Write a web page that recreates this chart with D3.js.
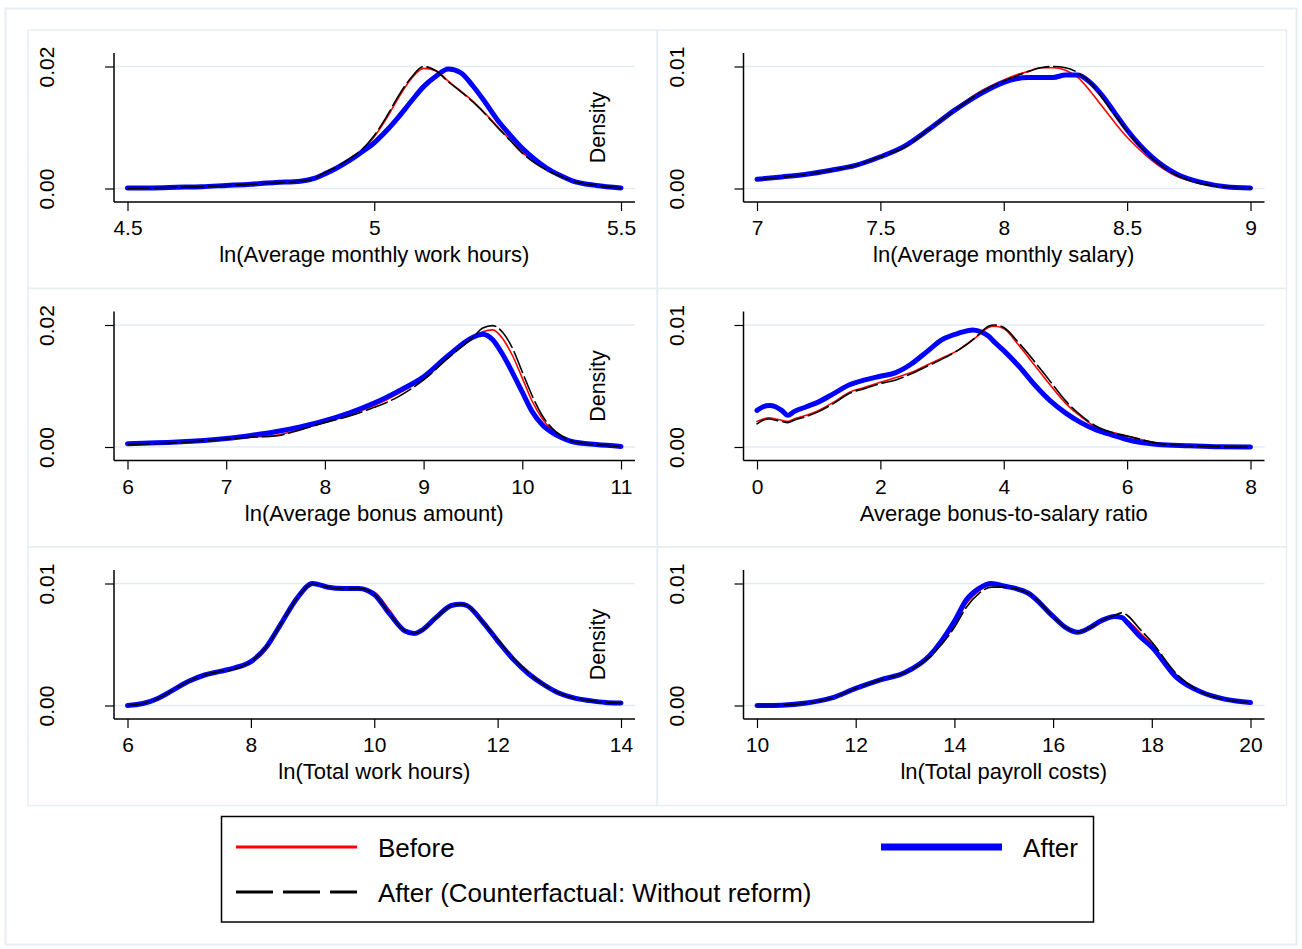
<!DOCTYPE html>
<html>
<head>
<meta charset="utf-8">
<script src="https://cdn.jsdelivr.net/npm/d3@7"></script>
<style>
  body { margin: 0; background: #fff; }
  text { font-family: "Liberation Sans", Arial, sans-serif; fill: #000; }
</style>
</head>
<body>
<div id="chart"></div>
<script>
// ---- data (kernel densities) ----
// panel 1: ln(Average monthly work hours)
const p1X       = [4.5,4.55,4.6,4.65,4.7,4.75,4.8,4.85,4.88,4.9,4.925,4.95,4.975,5.0,5.025,5.05,5.075,5.1,5.125,5.15,5.175,5.2,5.225,5.25,5.275,5.3,5.325,5.35,5.375,5.4,5.45,5.5];
const p1Before  = [0.0000,0.0001,0.0002,0.0003,0.0005,0.0007,0.0009,0.0012,0.0017,0.0025,0.0035,0.0048,0.0063,0.0085,0.0115,0.0150,0.0180,0.0197,0.0193,0.0176,0.0160,0.0143,0.0123,0.0101,0.0080,0.0059,0.0043,0.0030,0.0021,0.0013,0.0005,0.0001];
const p1After   = [0.0001,0.0001,0.0002,0.0003,0.0005,0.0007,0.0010,0.0012,0.0017,0.0024,0.0034,0.0046,0.0060,0.0075,0.0095,0.0118,0.0143,0.0167,0.0184,0.0196,0.0190,0.0168,0.0141,0.0112,0.0088,0.0066,0.0048,0.0033,0.0022,0.0013,0.0005,0.0001];
const p1Counter = [0.0000,0.0001,0.0002,0.0003,0.0005,0.0007,0.0009,0.0012,0.0017,0.0026,0.0036,0.0049,0.0064,0.0087,0.0118,0.0153,0.0182,0.0200,0.0193,0.0175,0.0159,0.0142,0.0122,0.0100,0.0079,0.0058,0.0042,0.0030,0.0021,0.0013,0.0005,0.0001];

// panel 2: ln(Average monthly salary)
const p2X       = [7,7.1,7.2,7.3,7.4,7.5,7.6,7.7,7.8,7.9,8,8.05,8.1,8.15,8.2,8.25,8.3,8.35,8.4,8.45,8.5,8.55,8.6,8.7,8.8,8.9,9];
const p2Before  = [0.00075,0.00095,0.00117,0.0015,0.0019,0.0026,0.0035,0.0050,0.0065,0.0079,0.0089,0.0093,0.0096,0.0099,0.0099,0.0097,0.0091,0.0080,0.0067,0.0054,0.0042,0.0032,0.0023,0.0010,0.0004,0.00012,0.00005];
const p2After   = [0.00075,0.00095,0.00117,0.0015,0.0019,0.0026,0.0035,0.0049,0.0064,0.0077,0.0087,0.0090,0.0091,0.0091,0.0091,0.0093,0.0093,0.0087,0.0076,0.0062,0.0048,0.0036,0.0026,0.0012,0.0005,0.00015,0.00005];
const p2Counter = [0.00072,0.00093,0.00115,0.0015,0.0019,0.0026,0.0034,0.0049,0.0064,0.0078,0.0088,0.0092,0.0096,0.0099,0.0100,0.0099,0.0095,0.0087,0.0074,0.0060,0.0047,0.0035,0.0025,0.0011,0.0004,0.00012,0.00005];

// panel 3: ln(Average bonus amount)
const p3X       = [6,6.5,7,7.25,7.5,7.75,8,8.25,8.5,8.75,9,9.25,9.5,9.6,9.7,9.8,9.9,10,10.1,10.2,10.3,10.4,10.5,10.75,11];
const p3Before  = [0.0004,0.0007,0.0013,0.0016,0.0019,0.0029,0.0041,0.0053,0.0068,0.0088,0.0113,0.0148,0.0178,0.0189,0.0192,0.0178,0.0150,0.0113,0.0075,0.0047,0.0028,0.0017,0.0010,0.0004,0.0001];
const p3After   = [0.00055,0.0008,0.0014,0.0019,0.0025,0.0033,0.0043,0.0056,0.0072,0.0092,0.0115,0.0150,0.0180,0.0185,0.0176,0.0152,0.0122,0.0090,0.0058,0.0037,0.0024,0.0015,0.0009,0.0004,0.0001];
const p3Counter = [0.0004,0.0007,0.0013,0.0016,0.0018,0.0028,0.0040,0.0051,0.0065,0.0083,0.0110,0.0146,0.0180,0.0195,0.0199,0.0188,0.0162,0.0123,0.0084,0.0052,0.0031,0.0018,0.0010,0.0004,0.0001];

// panel 4: Average bonus-to-salary ratio
const p4X       = [0,0.1,0.2,0.3,0.4,0.5,0.6,0.8,1,1.25,1.5,1.75,2,2.25,2.5,2.75,3,3.25,3.5,3.65,3.75,3.85,4,4.25,4.5,4.75,5,5.25,5.5,5.75,6,6.5,7,7.5,8];
const p4Before  = [0.0021,0.0023,0.0024,0.0023,0.0022,0.0021,0.0023,0.0026,0.0030,0.0037,0.0045,0.0049,0.0053,0.0057,0.0061,0.0067,0.0073,0.0079,0.0088,0.0094,0.0098,0.0099,0.0097,0.0083,0.0067,0.0051,0.0036,0.0025,0.0016,0.0012,0.0009,0.0003,0.0001,0.00003,0.0];
const p4After   = [0.0030,0.0033,0.0034,0.0033,0.0030,0.0026,0.0029,0.0033,0.0037,0.0044,0.0051,0.0055,0.0058,0.0061,0.0068,0.0078,0.0088,0.0093,0.0096,0.0094,0.0091,0.0086,0.0079,0.0066,0.0051,0.0038,0.0028,0.0020,0.0014,0.0010,0.0006,0.0002,0.0001,0.00002,0.0];
const p4Counter = [0.0019,0.0022,0.0023,0.0022,0.0021,0.0020,0.0022,0.0025,0.0029,0.0036,0.0044,0.0048,0.0052,0.0055,0.0060,0.0066,0.0072,0.0079,0.0088,0.0095,0.0099,0.0100,0.0098,0.0085,0.0070,0.0054,0.0038,0.0026,0.0017,0.0012,0.0009,0.0003,0.0001,0.00003,0.0];

// panel 5: ln(Total work hours)
const p5X       = [6,6.25,6.5,6.75,7,7.25,7.5,7.75,8,8.25,8.5,8.75,9,9.25,9.5,9.75,10,10.25,10.5,10.65,10.75,11,11.25,11.4,11.5,11.75,12,12.25,12.5,12.75,13,13.25,13.5,13.75,14];
const p5Before  = [0.0000,0.00016,0.0006,0.0013,0.0020,0.0025,0.0027,0.0030,0.0035,0.0046,0.0067,0.0088,0.0100,0.0097,0.0096,0.0096,0.0093,0.0078,0.0062,0.0060,0.0061,0.0072,0.0082,0.0083,0.0082,0.0069,0.0054,0.0039,0.0027,0.0017,0.0010,0.0006,0.0004,0.00025,0.0002];
const p5After   = [0.0000,0.00016,0.0006,0.0013,0.0020,0.0025,0.0028,0.0031,0.0036,0.0048,0.0068,0.0088,0.0100,0.0097,0.0096,0.0096,0.0091,0.0075,0.0061,0.0059,0.0061,0.0072,0.0082,0.0083,0.0082,0.0069,0.0053,0.0038,0.0026,0.0017,0.0010,0.0006,0.0004,0.00025,0.0002];
const p5Counter = [0.0000,0.00016,0.0006,0.0013,0.0020,0.0025,0.0028,0.0030,0.0036,0.0048,0.0068,0.0088,0.0100,0.0097,0.0096,0.0096,0.0091,0.0075,0.0061,0.0059,0.0061,0.0072,0.0082,0.0083,0.0082,0.0069,0.0054,0.0039,0.0027,0.0017,0.0010,0.0006,0.0004,0.00025,0.0002];

// panel 6: ln(Total payroll costs)
const p6X       = [10,10.5,11,11.5,12,12.5,13,13.5,14,14.25,14.5,14.75,15,15.5,16,16.25,16.5,16.75,17,17.25,17.4,17.5,17.75,18,18.5,19,19.5,20];
const p6Before  = [0.0000,0.00003,0.0002,0.0006,0.0014,0.0021,0.0027,0.0041,0.0066,0.0084,0.0094,0.0099,0.0098,0.0092,0.0073,0.0064,0.0060,0.0064,0.0070,0.0072,0.0072,0.0070,0.0060,0.0050,0.0025,0.0011,0.0005,0.00025];
const p6After   = [0.0000,0.00003,0.0002,0.0006,0.0014,0.0021,0.0027,0.0041,0.0069,0.0087,0.0096,0.0100,0.0098,0.0092,0.0073,0.0064,0.0060,0.0064,0.0070,0.0073,0.0072,0.0068,0.0057,0.0048,0.0023,0.0011,0.0005,0.00025];
const p6Counter = [0.0000,0.00003,0.0002,0.0006,0.0014,0.0021,0.0027,0.0040,0.0064,0.0081,0.0092,0.0097,0.0097,0.0092,0.0073,0.0064,0.0060,0.0064,0.0070,0.0074,0.0076,0.0074,0.0063,0.0052,0.0026,0.0011,0.0005,0.00025];

// axis ticks and titles
const xTickValues = [[4.5,5,5.5],[7,7.5,8,8.5,9],[6,7,8,9,10,11],[0,2,4,6,8],[6,8,10,12,14],[10,12,14,16,18,20]];
const yTickValues = [[0,0.02],[0,0.01],[0,0.02],[0,0.01],[0,0.01],[0,0.01]];
const xTitles = ["ln(Average monthly work hours)","ln(Average monthly salary)","ln(Average bonus amount)",
                 "Average bonus-to-salary ratio","ln(Total work hours)","ln(Total payroll costs)"];
const seriesNames = ["Before","After","After (Counterfactual: Without reform)"];

const panelX = [p1X,p2X,p3X,p4X,p5X,p6X];
const panelSeries = [
  [p1Before,p1After,p1Counter],[p2Before,p2After,p2Counter],[p3Before,p3After,p3Counter],
  [p4Before,p4After,p4Counter],[p5Before,p5After,p5Counter],[p6Before,p6After,p6Counter]
];

// ---- layout ----
const W = 1302, H = 949;
const gridCol = "#e3ebef";
const colX = [28, 657.5], rowY = [30, 288.5, 547], panelW = 629, panelH = 258.5;

const svg = d3.select("#chart").append("svg")
    .attr("width", W).attr("height", H);

svg.append("rect").attr("x", 5.5).attr("y", 8.5).attr("width", 1291).attr("height", 936)
    .attr("fill", "#fff").attr("stroke", "#e6eef2").attr("stroke-width", 2);

// draw order: red, blue (thick), black dashed on top
const styles = [
  {color: "#ff0000", width: 1.6, dash: null},
  {color: "#0000ff", width: 5, dash: null},
  {color: "#000000", width: 1.6, dash: "22,5"}
];

panelX.forEach(function(xs, i) {
  const col = i % 2, row = Math.floor(i / 2);
  const x0 = colX[col], y0 = rowY[row];
  const axisX = x0 + 86, axisY = y0 + 172;

  svg.append("rect").attr("x", x0).attr("y", y0).attr("width", panelW).attr("height", panelH)
      .attr("fill", "#fff").attr("stroke", "#e6eef2").attr("stroke-width", 1.5);

  const xt = xTickValues[i], yt = yTickValues[i];
  const x = d3.scaleLinear().domain([xt[0], xt[xt.length - 1]]).range([axisX + 13.5, axisX + 507]);
  const y = d3.scaleLinear().domain([0, yt[1]]).range([y0 + 158.5, y0 + 36.5]);

  const g = svg.append("g");

  // gridlines
  g.selectAll(".grid").data(yt).enter().append("line")
      .attr("x1", axisX).attr("x2", axisX + 521)
      .attr("y1", d => y(d)).attr("y2", d => y(d))
      .attr("stroke", gridCol).attr("stroke-width", 1.5);

  // curves
  const line = d3.line().x(d => x(d[0])).y(d => y(d[1])).curve(d3.curveMonotoneX);
  panelSeries[i].forEach(function(vals, s) {
    const pts = xs.map((v, k) => [v, vals[k]]);
    g.append("path").datum(pts)
        .attr("d", line)
        .attr("fill", "none")
        .attr("stroke", styles[s].color)
        .attr("stroke-width", styles[s].width)
        .attr("stroke-linejoin", "round")
        .attr("stroke-linecap", "round")
        .attr("stroke-dasharray", styles[s].dash);
  });

  // axes
  const xAxis = g.append("g").attr("transform", `translate(0,${axisY})`)
      .call(d3.axisBottom(x).tickValues(xt).tickSize(9).tickFormat(d3.format("")));
  xAxis.select(".domain").remove();
  xAxis.selectAll("line").attr("stroke", "#000").attr("stroke-width", 1.2);
  xAxis.selectAll("text").attr("y", 26).attr("dy", "0.35em")
      .style("font-size", "21px").attr("fill", "#000");

  const yAxis = g.append("g").attr("transform", `translate(${axisX},0)`)
      .call(d3.axisLeft(y).tickValues(yt).tickSize(9).tickFormat(d3.format(".2f")));
  yAxis.select(".domain").remove();
  yAxis.selectAll("line").attr("stroke", "#000").attr("stroke-width", 1.2);
  yAxis.selectAll("text")
      .attr("transform", "rotate(-90)")
      .attr("x", 0).attr("y", -60).attr("dy", 0)
      .attr("text-anchor", "middle")
      .style("font-size", "21px").attr("fill", "#000");

  g.append("line").attr("x1", axisX).attr("x2", axisX).attr("y1", y0 + 23).attr("y2", axisY)
      .attr("stroke", "#000").attr("stroke-width", 1.5);
  g.append("line").attr("x1", axisX).attr("x2", axisX + 521).attr("y1", axisY).attr("y2", axisY)
      .attr("stroke", "#000").attr("stroke-width", 1.5);

  g.append("text").attr("x", x((xt[0] + xt[xt.length - 1]) / 2)).attr("y", y0 + 224.5).attr("dy", "0.35em")
      .attr("text-anchor", "middle").style("font-size", "22px").text(xTitles[i]);

  if (col === 0) {
    g.append("text")
        .attr("transform", `translate(${x0 + 577},${(y(0) + y(yt[1])) / 2}) rotate(-90)`)
        .attr("text-anchor", "middle").style("font-size", "21.5px").text("Density");
  }
});

// ---- legend ----
const leg = svg.append("g");
leg.append("rect").attr("x", 221.5).attr("y", 816.5).attr("width", 872).attr("height", 105.5)
    .attr("fill", "#fff").attr("stroke", "#000").attr("stroke-width", 1.5);

const legItems = [
  {s: 0, lx: 236, ty: 848, tx: 378, anchor: "start"},
  {s: 1, lx: 881, ty: 848, tx: 1078, anchor: "end"},
  {s: 2, lx: 236, ty: 893, tx: 378, anchor: "start"}
];
legItems.forEach(function(d) {
  const st = styles[d.s];
  leg.append("line").attr("x1", d.lx).attr("x2", d.lx + 121).attr("y1", d.ty - 1).attr("y2", d.ty - 1)
      .attr("stroke", st.color)
      .attr("stroke-width", d.s === 1 ? 7 : 3)
      .attr("stroke-dasharray", d.s === 2 ? "37,10" : null);
  leg.append("text").attr("x", d.tx).attr("y", d.ty).attr("dy", "0.35em")
      .attr("text-anchor", d.anchor).style("font-size", "26px").text(seriesNames[d.s]);
});
</script>
</body>
</html>
